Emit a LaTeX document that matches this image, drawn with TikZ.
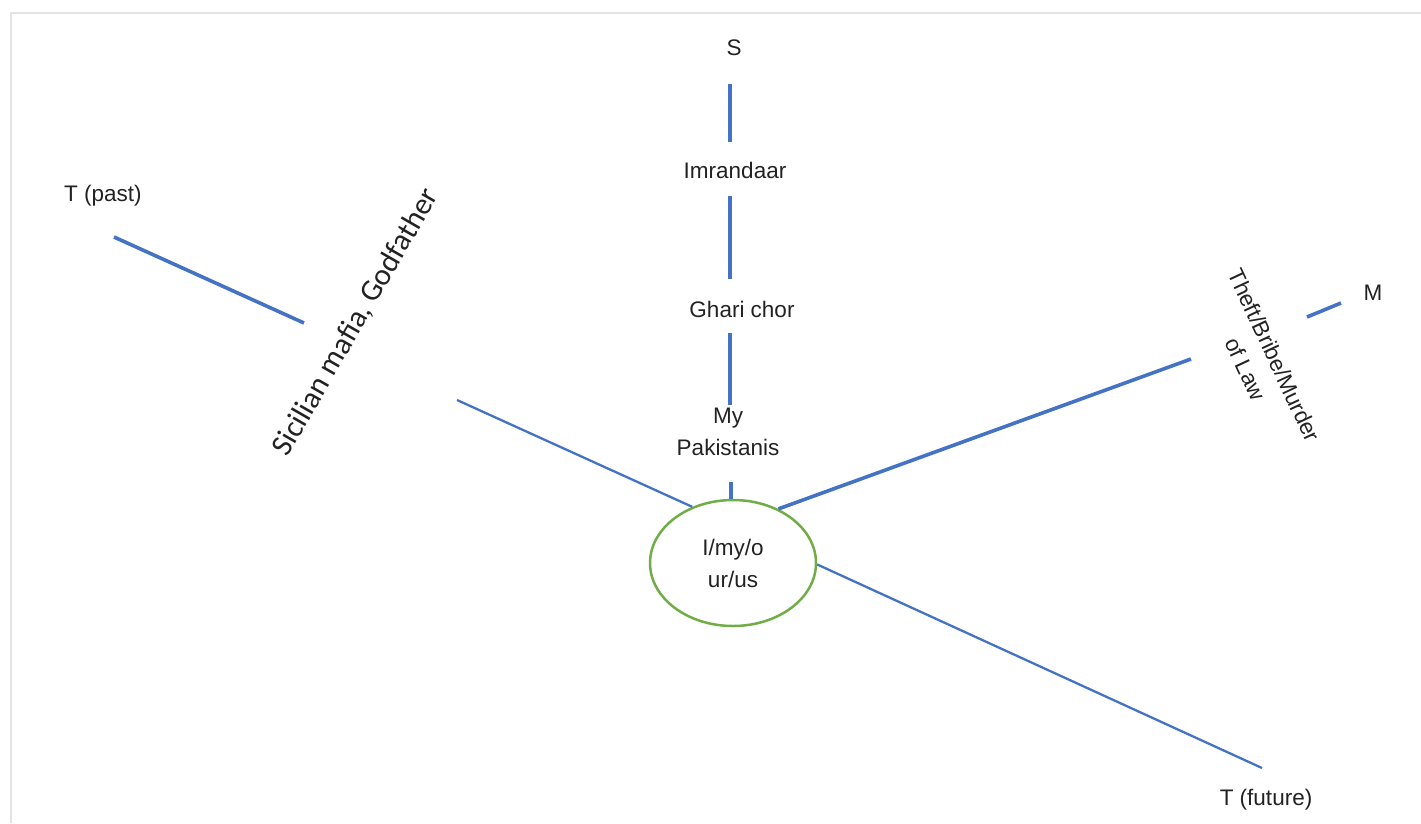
\documentclass[tikz,border=0pt]{standalone}
\usepackage{fontspec}
\setmainfont{Liberation Sans}
\newfontfamily\carl{Carlito}
\usetikzlibrary{shapes.geometric}
\definecolor{lineblue}{HTML}{4472C4}
\definecolor{ellgreen}{HTML}{70AD47}
\definecolor{framegray}{HTML}{E3E3E3}
\definecolor{txt}{HTML}{222222}
\begin{document}
\begin{tikzpicture}[x=1pt,y=-1pt,
  lbl/.style={font=\fontsize{22.5}{32}\selectfont, inner sep=0pt, align=center, text=txt},
  ell/.style={ellipse, draw=ellgreen, line width=2.5pt, minimum width=166pt, minimum height=126pt, inner sep=0pt, align=center, font=\fontsize{22.5}{32}\selectfont, text=txt},
  linkthick/.style={draw=lineblue, line width=3.6pt},
  linkthin/.style={draw=lineblue, line width=2.3pt}]
\useasboundingbox (0,0) rectangle (1421,823);
\draw[framegray, line width=1.5pt] (11,823) -- (11,13) -- (1421,13);

% nodes
\node[lbl] (S) at (734,48) {S};
\node[lbl] (imr) at (735,170) {Imrandaar};
\node[lbl] (ghari) at (742,309) {Ghari chor};
\node[lbl] (pak) at (728,432) {My\\Pakistanis};
\node[ell] (ego) at (733,563) {I/my/o\\ur/us};
\node[lbl] (tpast) at (103,196) {T (past)};
\node[lbl] (m) at (1373,293) {M};
\node[lbl] (tfut) at (1266,800) {T (future)};
\node[lbl, rotate=-65] (theft) at (1260,362) {Theft/Bribe/Murder\\of Law};
\node[lbl, font=\carl\fontsize{30.5}{36}\selectfont, rotate=60] (sic) at (356,322) {Sicilian mafia, Godfather};

% connector end points
\coordinate (s1) at (730,84);  \coordinate (s2) at (730,142);
\coordinate (i1) at (730,196); \coordinate (i2) at (730,279);
\coordinate (g1) at (730,333); \coordinate (g2) at (730,405);
\coordinate (p1) at (731,482);
\coordinate (tp1) at (114,237); \coordinate (tp2) at (304,323);
\coordinate (sc1) at (457,400);
\coordinate (th1) at (1191,359);
\coordinate (m1) at (1307,317); \coordinate (m2) at (1341,303);
\coordinate (tf1) at (1262,768);

% connectors
\draw[linkthick] (s1) -- (s2);
\draw[linkthick] (i1) -- (i2);
\draw[linkthick] (g1) -- (g2);
\draw[linkthick] (p1) -- (p1 |- ego.north);
\draw[linkthick] (tp1) -- (tp2);
\draw[linkthin] (sc1) -- (ego.126.5);
\draw[linkthick] (ego.50) -- (th1);
\draw[linkthick] (m1) -- (m2);
\draw[linkthin] (ego.-1) -- (tf1);
\end{tikzpicture}
\end{document}
